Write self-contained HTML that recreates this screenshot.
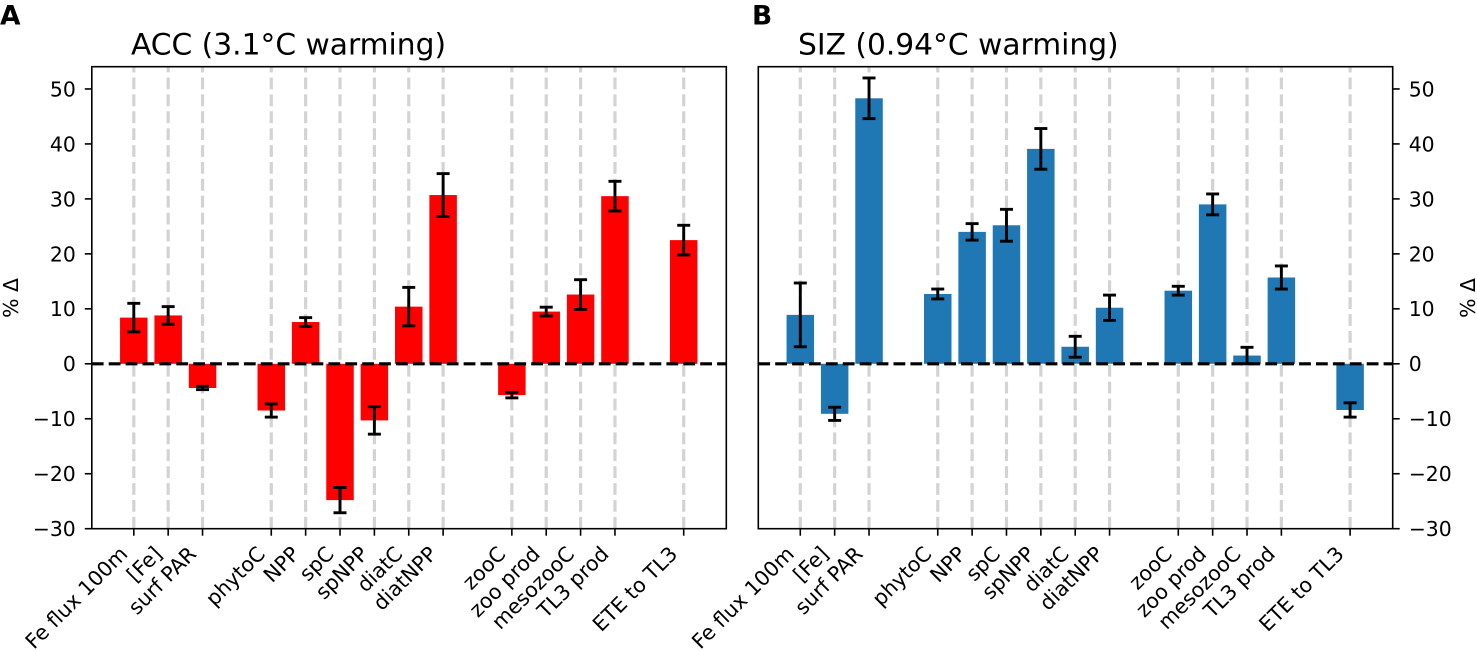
<!DOCTYPE html>
<html lang="en">
<head>
<meta charset="utf-8">
<title>ACC and SIZ warming response</title>
<style>
html,body{margin:0;padding:0;background:#fff;}
svg{display:block;font-family:"DejaVu Sans","Liberation Sans",sans-serif;fill:#000;}
</style>
</head>
<body>
<svg id="chart" xmlns="http://www.w3.org/2000/svg" width="1477" height="651" viewBox="0 0 1477 651"></svg>
<script>
const categoryGroups = [
  ['Fe flux 100m', '[Fe]', 'surf PAR'],
  ['phytoC', 'NPP', 'spC', 'spNPP', 'diatC', 'diatNPP'],
  ['zooC', 'zoo prod', 'mesozooC', 'TL3 prod'],
  ['ETE to TL3']
];
const accValues = [8.4, 8.8, -4.4, -8.5, 7.6, -24.8, -10.3, 10.4, 30.7, -5.7, 9.5, 12.6, 30.5, 22.5];
const accErrors = [2.6, 1.6, 0.3, 1.2, 0.8, 2.3, 2.5, 3.5, 3.9, 0.5, 0.8, 2.7, 2.7, 2.7];
const sizValues = [8.9, -9.1, 48.3, 12.7, 24.0, 25.2, 39.1, 3.1, 10.2, 13.3, 29.0, 1.5, 15.7, -8.4];
const sizErrors = [5.8, 1.2, 3.7, 0.9, 1.5, 2.9, 3.7, 1.9, 2.3, 0.8, 1.9, 1.5, 2.1, 1.3];
const yTicks = [-30, -20, -10, 0, 10, 20, 30, 40, 50];
const yLimits = [-30, 54.05];

const NS = 'http://www.w3.org/2000/svg';
const svg = document.getElementById('chart');

function make(parent, tag, attrs, text) {
  const el = document.createElementNS(NS, tag);
  for (const k in attrs) el.setAttribute(k, attrs[k]);
  if (text !== undefined) el.textContent = text;
  parent.appendChild(el);
  return el;
}

function categorySlots() {
  const slots = [];
  let slot = 0;
  categoryGroups.forEach(function (group) {
    group.forEach(function (label) {
      slots.push({ label: label, pos: slot });
      slot += 1;
    });
    slot += 1;
  });
  return slots;
}

function slugify(s) {
  return s.toLowerCase().replace(/[^a-z0-9]+/g, '-').replace(/^-|-$/g, '');
}

function drawPanel(cfg) {
  const slots = categorySlots();
  const top = 66.7, bottom = 528.7;
  const maxPos = slots[slots.length - 1].pos;
  const insetL = 42, insetR = 42.6;
  const unit = (cfg.right - cfg.left - insetL - insetR) / maxPos;
  const xScale = function (v) {
    return cfg.left + insetL + v * unit;
  };
  const yScale = function (v) {
    return bottom - (v - yLimits[0]) / (yLimits[1] - yLimits[0]) * (bottom - top);
  };

  const panel = make(svg, 'g', {});
  
  

  // vertical dashed guides
  slots.forEach(function (s) {
    const guide = make(panel, 'line', {
      x1: xScale(s.pos), x2: xScale(s.pos), y1: bottom, y2: top,
      stroke: '#d3d3d3', 'stroke-width': 3.2, 'stroke-dasharray': '11.8 5.1'
    });
    
    
  });

  // bars
  slots.forEach(function (s, i) {
    const v = cfg.values[i];
    const y0 = yScale(0), y1 = yScale(v);
    const bar = make(panel, 'rect', {
      x: xScale(s.pos) - 0.4 * unit, width: 0.8 * unit,
      y: Math.min(y0, y1), height: Math.abs(y1 - y0), fill: cfg.color
    });
    
    
  });

  // error bars
  slots.forEach(function (s, i) {
    const v = cfg.values[i], e = cfg.errors[i];
    const x = xScale(s.pos), yHi = yScale(v + e), yLo = yScale(v - e);
    const g = make(panel, 'g', { stroke: '#000', 'stroke-width': 2.9 });
    
    
    make(g, 'line', { x1: x, x2: x, y1: yHi, y2: yLo });
    make(g, 'line', { x1: x - 6.5, x2: x + 6.5, y1: yHi, y2: yHi });
    make(g, 'line', { x1: x - 6.5, x2: x + 6.5, y1: yLo, y2: yLo });
  });

  // zero line
  const zero = make(panel, 'line', {
    x1: cfg.left, x2: cfg.right, y1: yScale(0), y2: yScale(0),
    stroke: '#000', 'stroke-width': 3.2, 'stroke-dasharray': '11.8 5.1'
  });
  
  

  // frame
  const frame = make(panel, 'rect', {
    x: cfg.left, y: top, width: cfg.right - cfg.left, height: bottom - top,
    fill: 'none', stroke: '#000', 'stroke-width': 1.6
  });
  
  

  // y axis
  const axisX = cfg.side === 'left' ? cfg.left : cfg.right;
  const dir = cfg.side === 'left' ? -1 : 1;
  const yAxis = make(panel, 'g', {});
  
  
  yTicks.forEach(function (t) {
    const y = yScale(t);
    const tick = make(yAxis, 'line', { x1: axisX, x2: axisX + dir * 7, y1: y, y2: y, stroke: '#000', 'stroke-width': 1.6 });
    
    
    const label = make(yAxis, 'text', {
      x: axisX + dir * 16, y: y + 7.4, 'font-size': 20.4,
      'text-anchor': cfg.side === 'left' ? 'end' : 'start'
    }, String(t).replace('-', '\u2212'));
    
    
  });

  const yTitle = make(yAxis, 'text', {
    transform: 'translate(' + cfg.yTitleX + ' 298) rotate(-90)',
    'font-size': 20.4, 'text-anchor': 'middle'
  }, '% \u0394');
  
  

  // x axis
  const xAxis = make(panel, 'g', {});
  
  
  slots.forEach(function (s) {
    const x = xScale(s.pos);
    const tick = make(xAxis, 'line', { x1: x, x2: x, y1: bottom, y2: bottom + 7, stroke: '#000', 'stroke-width': 1.6 });
    
    
    const label = make(xAxis, 'text', {
      transform: 'translate(' + (x - 5) + ' ' + (bottom + 26.5) + ') rotate(-45)',
      'font-size': 20.6, 'text-anchor': 'end'
    }, s.label);
    
    
  });

  // title and panel letter
  const title = make(panel, 'text', { x: cfg.titleX, y: 54.5, 'font-size': 29.7 }, cfg.title);
  
  
  const letter = make(panel, 'text', { x: cfg.letterX, y: 24.4, 'font-size': 26.5, 'font-weight': 'bold' }, cfg.letter);
  
  
}

drawPanel({
  name: 'acc', title: 'ACC (3.1\u00B0C warming)', letter: 'A', letterX: 0,
  left: 91.8, right: 726.3, side: 'left', color: '#ff0000', titleX: 131, yTitleX: 18,
  values: accValues, errors: accErrors
});
drawPanel({
  name: 'siz', title: 'SIZ (0.94\u00B0C warming)', letter: 'B', letterX: 752,
  left: 758.3, right: 1392.7, side: 'right', color: '#1f77b4', titleX: 798, yTitleX: 1475,
  values: sizValues, errors: sizErrors
});
</script>
</body>
</html>
